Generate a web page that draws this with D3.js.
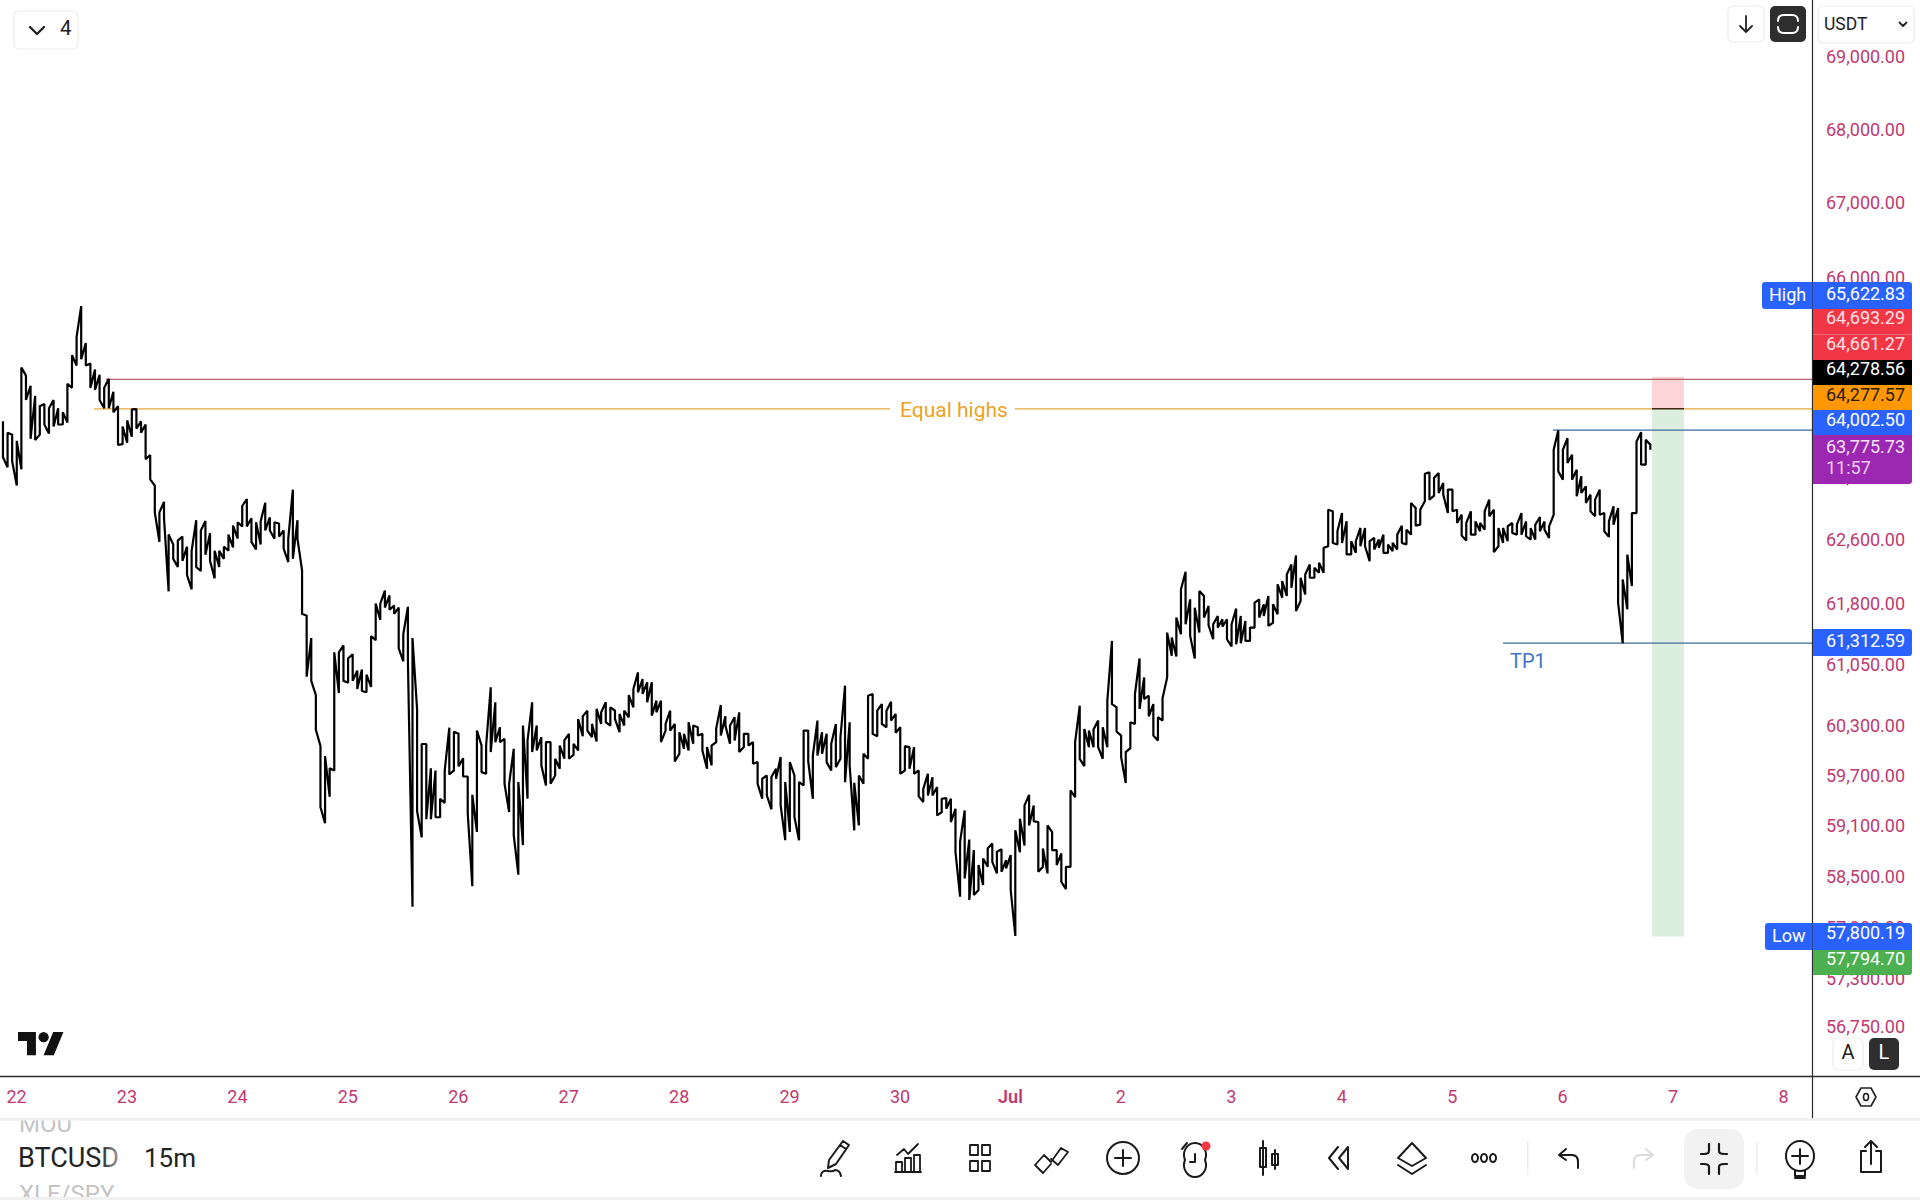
<!DOCTYPE html>
<html>
<head>
<meta charset="utf-8">
<style>
  html, body { margin: 0; padding: 0; background: #fff; }
  svg { display: block; font-family: Roboto, sans-serif; }
</style>
<script src="https://cdn.jsdelivr.net/npm/d3@7"></script>
</head>
<body>
<div id="graph"></div>
<script>
// hourly highs and lows, first bar Jun 21 21:00
var highs = [
  64117,63970,63944,63865,64815,64709,64577,64445,64312,
  64339,64286,64392,64286,64233,64603,64976,65215,65622.83,65135,
  64869,64789,64720,64550,64667,64498,64312,64049,64128,64270,
  64275,64117,64075,63681,63291,62950,63084,62670,62543,62594,62645,
  62517,62466,62851,62722,62841,62686,62466,62466,62517,62670,
  62784,62825,63032,63120,62877,62825,62836,63073,62887,62825,
  62810,62722,62619,63239,62851,62221,61652,61376,60675,60056,
  59933,59786,61200,61200,61285,61125,61175,60975,60990,60925,
  61400,61804,61804,61967,61906,61779,61754,61426,61764,61376,
  60500,60080,60080,59786,59760,59420,59760,60278,60228,60204,
  59908,59688,59468,60243,60062,60062,60770,60587,60283,60143,
  59601,60022,59621,60304,60123,60587,60304,60163,60102,60102,
  59902,60062,60123,60203,60083,60384,60416,60485,60324,60506,
  60465,60587,60526,60485,60445,60485,60676,60749,60953,60872,
  60831,60831,60607,60607,60324,60485,60324,60223,60203,60344,
  60304,60284,60203,60043,60062,60271,60555,60416,60304,60404,
  60465,60203,60203,60103,59862,59661,59701,59681,59782,59922,
  59621,59862,59701,59621,60243,60243,
  59941,60364,60223,60203,60082,60323,60162,60790,60343,59612,
  59700,59961,60667,60688,60485,60566,60485,60595,60445,60283,
  60054,60042,60042,59761,59540,59720,59680,59560,59421,59429,
  59421,59301,58907,59281,58934,58808,58632,58710,58828,58887,
  58789,58820,58690,58750,59044,59183,59341,59468,59341,59143,
  58828,59103,59024,58808,58769,58612,59520,60102,60546,60263,
  60243,60255,
  60364,60283,60607,61341,60526,60182,59982,60344,60688,61124,
  60891,60668,60566,60405,60635,61444,61382,61630,61981,62201,
  61857,61753,61961,61899,61774,61547,61650,61609,61609,61547,
  61741,61650,61588,61506,61815,61857,61795,61899,61795,62044,
  62085,62168,62294,62406,62127,62168,62294,62252,62315,
  62502,62985,62964,62711,62943,62837,62586,62586,62753,62753,
  62586,62628,62607,62669,62544,62565,62669,62782,62732,63070,
  63007,62985,63443,63460,63388,63452,63324,63240,63240,62985,
  62922,62816,62964,62837,62816,62964,63112,62985,62753,62753,
  62774,62816,62795,
  62942,62836,62752,62794,62891,62836,62773,63750,64002.5,63750,
  63899,63686,63495,63410,63282,63176,63112,63240,62942,62836,
  63027,63006,62106,62418,62942,63857,63976,63878,63814
];
var lows = [
  63655,63525,63603,63291,63499,64392,63891,63876,63944,
  64075,63960,64049,64075,64075,64102,64550,64842,64923,64842,
  64550,64524,64392,64286,64286,64233,63812,63823,63839,63918,
  64023,63970,63629,63369,62950,62578,62877,61957,62364,62262,62339,
  62160,61982,62262,62211,62415,62339,62119,62262,62364,62466,
  62507,62619,62773,62773,62578,62481,62543,62722,62722,62619,
  62645,62492,62323,62364,62619,61677,60900,60850,60253,59322,
  59128,59444,59761,60700,60850,60825,60850,60750,60725,60710,
  60775,61350,61602,61754,61728,61677,61250,61090,61100,58143,
  59273,58960,59176,59176,59200,59200,59370,59712,59761,59810,
  59688,59250,58383,59025,59741,59721,59982,60102,60102,59601,
  59263,58986,58518,58869,59422,59982,60002,59822,59581,59601,
  59701,59782,59902,59902,59950,60002,60175,60243,60163,60111,
  60324,60344,60304,60384,60223,60304,60404,60526,60709,60689,
  60587,60425,60465,60103,60243,60243,59870,59962,60022,60002,
  60083,60183,60002,59782,59822,60103,60183,60304,60083,60123,
  59982,60043,60062,59842,59601,59422,59462,59294,59661,59342,
  58927,59025,59203,58927,59581,59870,
  59421,59941,59961,59861,59761,59801,59901,59620,59821,59043,
  59103,59600,59901,60203,60174,60323,60283,60364,60215,59720,
  59761,59781,59720,59452,59381,59460,59460,59222,59261,59301,
  59143,58785,58260,58474,58221,58279,58338,58396,58612,58671,
  58534,58553,58592,58338,57800.19,58785,58864,59103,59151,58553,
  58612,58534,58808,58632,58435,58349,58612,59440,59901,59813,
  60042,60042,
  60042,59902,60042,60566,60231,59922,59609,60030,60324,60506,
  60627,60417,60182,60122,60364,60891,61157,61149,61424,61547,
  61403,61124,61444,61630,61535,61362,61506,61518,61362,61272,
  61300,61313,61341,61341,61506,61630,61650,61526,61567,61671,
  61878,61899,62002,61712,61836,61919,62127,62127,62189,
  62189,62523,62563,62544,62563,62419,62419,62440,62523,62523,
  62335,62481,62502,62440,62440,62460,62481,62565,62544,62669,
  62782,62795,63091,63112,63163,63197,63176,62943,62964,62816,
  62657,62594,62669,62669,62711,62732,62901,62448,62523,62565,
  62586,62690,62669,
  62669,62648,62606,62606,62711,62732,62627,62921,63473,63367,
  63580,63367,63155,63197,63070,62964,62901,62921,62711,62640,
  62794,61816,61312.59,61733,62023,62942,63558,63558,63750
];

var firstBar = new Date(2024, 5, 21, 21);
var dayTicks = [22,23,24,25,26,27,28,29,30].map(d => new Date(2024, 5, d))
  .concat([1,2,3,4,5,6,7,8].map(d => new Date(2024, 6, d)));
var dayLabels = ['22','23','24','25','26','27','28','29','30','Jul','2','3','4','5','6','7','8'];

var priceTicks = [69000,68000,67000,66000,65000,64200,63400,62600,61800,61050,60300,59700,59100,58500,57900,57300,56750];

var stopPrice = 64693.29, entryPrice = 64278.56, targetPrice = 57794.70;
var redLinePrice = 64661.27, equalHighs = 64277.57, blueLinePrice = 64002.50, tp1 = 61312.59;

var labelValues = ['65,622.83','64,693.29','64,661.27','64,278.56','64,277.57','64,002.50','63,775.73','61,312.59','57,800.19','57,794.70'];
var labelFills  = ['#2962ff','#f23645','#f23645','#000000','#ff9800','#2962ff','#9c27b0','#2962ff','#2962ff','#4caf50'];
var labelInk    = ['#fff','#ffe3e5','#ffe3e5','#fff','#2a1a00','#fff','#f6e3f9','#fff','#fff','#fff'];

var W = 1920, H = 1200, axisX = 1812.5, axisY = 1076.5, stripY = 1118;
var pink = '#bf3a70';

var svg = d3.select('#graph').append('svg').attr('width', W).attr('height', H);

var x = d3.scaleTime().domain([dayTicks[0], dayTicks[16]]).range([16, 1783]);
var y = d3.scaleLog().domain([69000, 56750]).range([57, 1027]);

/*
  position box and level lines
*/
var boxL = 1652, boxR = 1684;
svg.append('rect').attr('x', boxL).attr('width', boxR - boxL)
  .attr('y', y(stopPrice)).attr('height', y(entryPrice) - y(stopPrice)).attr('fill', '#fdd5d9');
svg.append('rect').attr('x', boxL).attr('width', boxR - boxL)
  .attr('y', y(entryPrice)).attr('height', y(targetPrice) - y(entryPrice)).attr('fill', '#dceede');

function level(x0, x1, price, col) {
  svg.append('line').attr('x1', x0).attr('x2', x1).attr('y1', y(price)).attr('y2', y(price))
    .attr('stroke', col).attr('stroke-width', 1.2)
}
level(106, axisX, redLinePrice, '#b9606c')
level(94, 890, equalHighs, '#e6a83f')
level(1015, axisX, equalHighs, '#e6a83f')
level(1553, axisX, blueLinePrice, '#3f6a9c')
level(1503, axisX, tp1, '#3f6a9c')
level(boxL, boxR, entryPrice, '#111')

svg.append('text').attr('x', 954).attr('y', y(equalHighs) + 3).attr('text-anchor', 'middle')
  .attr('dominant-baseline', 'middle').attr('font-size', 21).attr('fill', '#eda31f').text('Equal highs')
svg.append('text').attr('x', 1510).attr('y', 668).attr('font-size', 20).attr('fill', '#3f74c6').text('TP1')

/*
  price path: each hour is a vertical run from high to low, joined in the order that follows the next bar
*/
var path = []
highs.forEach((h, i) => {
  var t = d3.timeMinute.offset(firstBar, i * 60 + 10)
  var nextHigher = i < highs.length - 1 && highs[i + 1] + lows[i + 1] > h + lows[i]
  if (nextHigher) path.push([t, lows[i]], [t, h])
  else path.push([t, h], [t, lows[i]])
})
var priceLine = d3.line().x(d => x(d[0])).y(d => y(d[1]))
svg.append('path').attr('d', priceLine(path)).attr('fill', 'none')
  .attr('stroke', '#000').attr('stroke-width', 2.2).attr('stroke-linejoin', 'miter').attr('stroke-miterlimit', 1.2)

/*
  axes
*/
var yAxis = d3.axisRight(y).tickValues(priceTicks).tickFormat(d3.format(',.2f')).tickSize(0).tickPadding(0)
svg.append('g').attr('transform', 'translate(1826,0)').call(yAxis)
  .call(g => g.select('.domain').remove())
  .selectAll('text').attr('font-size', 18).attr('font-family', 'Roboto').attr('fill', pink)

var xAxis = d3.axisBottom(x).tickValues(dayTicks).tickFormat((d, i) => dayLabels[i]).tickSize(0).tickPadding(0)
svg.append('g').attr('transform', 'translate(0,1090.5)').call(xAxis)
  .call(g => g.select('.domain').remove())
  .selectAll('text').attr('font-size', 18).attr('font-family', 'Roboto').attr('fill', pink)
  .attr('font-weight', (d, i) => dayLabels[i] == 'Jul' ? 600 : 400)

svg.append('line').attr('x1', axisX).attr('x2', axisX).attr('y1', 0).attr('y2', stripY).attr('stroke', '#2a2a2e').attr('stroke-width', 1.2)
svg.append('line').attr('x1', 0).attr('x2', W).attr('y1', axisY).attr('y2', axisY).attr('stroke', '#2a2a2e').attr('stroke-width', 1.4)

/*
  price labels on the axis, stacked as in the app
*/
var labelBoxes = [[282,309],[309,334.5],[334.5,360],[360,385],[385,410],[410,435],[435,484],[629,656],[923,950],[950,975]]
var labelTextY = [295,319.5,345,370.5,396,421,448,642,934,960.5]
var labelG = svg.append('g')
labelG.selectAll('path').data(labelValues).join('path')
  .attr('fill', (d, i) => labelFills[i])
  .attr('d', (d, i) => {
    var t = labelBoxes[i][0], b = labelBoxes[i][1], r = 1912, l = axisX + 0.5
    var topR = (i == 0 || i == 7 || i == 8) ? 3 : 0
    var botR = (i == 6 || i == 7 || i == 9) ? 3 : 0
    return `M${l},${t}H${r - topR}Q${r},${t} ${r},${t + topR}V${b - botR}Q${r},${b} ${r - botR},${b}H${l}Z`
  })
labelG.selectAll('text').data(labelValues).join('text')
  .attr('x', 1826)
  .attr('y', (d, i) => labelTextY[i])
  .attr('dominant-baseline', 'middle').attr('font-size', 18)
  .attr('fill', (d, i) => labelInk[i]).text(d => d)
svg.append('text').attr('x', 1826).attr('y', 469).attr('dominant-baseline', 'middle')
  .attr('font-size', 18).attr('fill', '#f0cdf5').text('11:57')

function sideTab(x0, t, b, txt, tx) {
  svg.append('path').attr('fill', '#2962ff')
    .attr('d', `M${axisX},${t}H${x0 + 3}Q${x0},${t} ${x0},${t + 3}V${b - 3}Q${x0},${b} ${x0 + 3},${b}H${axisX}Z`)
  svg.append('text').attr('x', tx).attr('y', (t + b) / 2 + 1).attr('dominant-baseline', 'middle')
    .attr('font-size', 18).attr('fill', '#fff').text(txt)
}
sideTab(1762, 282, 309, 'High', 1769)
sideTab(1765, 923, 950, 'Low', 1772)

/*
  top buttons
*/
function button(x0, y0, w, h, dark) {
  svg.append('rect').attr('x', x0).attr('y', y0).attr('width', w).attr('height', h).attr('rx', 5)
    .attr('fill', dark ? '#2e2e2e' : '#fff').attr('stroke', dark ? 'none' : '#ececec').attr('stroke-width', 1.2)
}
function icon(cx, cy, d, col, sw) {
  svg.append('path').attr('transform', `translate(${cx},${cy})`).attr('d', d).attr('fill', 'none')
    .attr('stroke', col || '#1a1a1a').attr('stroke-width', sw || 2).attr('stroke-linecap', 'round').attr('stroke-linejoin', 'round')
}
button(14, 11, 64, 38)
icon(37, 30, 'M-7,-3L0,4L7,-3', '#222', 2.4)
svg.append('text').attr('x', 60).attr('y', 30).attr('dominant-baseline', 'middle').attr('font-size', 20.5).attr('fill', '#222').text('4')

button(1728, 6, 36, 36)
icon(1746, 24, 'M0,-8V8M-6,2L0,8L6,2', '#222', 1.8)
button(1770, 6, 36, 36, true)
icon(1788, 24, 'M-10,-3Q-10,-9 -4,-9H4Q10,-9 10,-3M-10,3Q-10,9 -4,9H4Q10,9 10,3', '#fff', 2)
button(1818, 6, 96, 37)
svg.append('text').attr('x', 1824).attr('y', 25).attr('dominant-baseline', 'middle').attr('font-size', 17.5).attr('fill', '#222').text('USDT')
icon(1903, 24, 'M-3.5,-1.5L0,2L3.5,-1.5', '#222', 1.8)

button(1833, 1038, 30, 32)
svg.append('text').attr('x', 1848).attr('y', 1054).attr('text-anchor', 'middle').attr('dominant-baseline', 'middle').attr('font-size', 20).attr('fill', '#222').text('A')
button(1869, 1038, 30, 32, true)
svg.append('text').attr('x', 1884).attr('y', 1054).attr('text-anchor', 'middle').attr('dominant-baseline', 'middle').attr('font-size', 20).attr('fill', '#fff').text('L')

// watermark
svg.append('g').attr('transform', 'translate(18,1027) scale(1.28)').append('path').attr('fill', '#111')
  .attr('d', 'M14 22H7V11H0V4h14v18zM28 22h-8l7.5-18h8L28 22z')
svg.append('circle').attr('cx', 18 + 20 * 1.28).attr('cy', 1027 + 8 * 1.28).attr('r', 4 * 1.28).attr('fill', '#111')

icon(1866, 1097, 'M-5,-9H5L10,0L5,9H-5L-10,0ZM2.5,0A2.5,3.5 0 1 1 -2.5,0A2.5,3.5 0 1 1 2.5,0', '#222', 1.6)

/*
  bottom toolbar
*/
svg.append('rect').attr('x', 0).attr('y', stripY).attr('width', W).attr('height', 2.5).attr('fill', '#f0f0f0')
svg.append('rect').attr('x', 0).attr('y', 1197).attr('width', W).attr('height', 3).attr('fill', '#f0f0f0')

var defs = svg.append('defs')
defs.append('clipPath').attr('id', 'tbClip').append('rect').attr('x', 0).attr('y', 1120.5).attr('width', 118).attr('height', 76.5)
var fade = defs.append('linearGradient').attr('id', 'symFade')
fade.append('stop').attr('offset', '0.8').attr('stop-color', '#222')
fade.append('stop').attr('offset', '1').attr('stop-color', '#999')
var syms = svg.append('g').attr('clip-path', 'url(#tbClip)')
syms.append('text').attr('x', 19).attr('y', 1132).attr('font-size', 24).attr('fill', '#c4c4c4').text('MOU')
syms.append('text').attr('x', 18).attr('y', 1167).attr('font-size', 27).attr('fill', 'url(#symFade)').text('BTCUSD')
syms.append('text').attr('x', 19).attr('y', 1202).attr('font-size', 24).attr('fill', '#c4c4c4').text('XLE/SPY')
svg.append('text').attr('x', 144).attr('y', 1167).attr('font-size', 26).attr('fill', '#222').text('15m')

svg.append('rect').attr('x', 1684).attr('y', 1129).attr('width', 60).attr('height', 60).attr('rx', 14).attr('fill', '#f2f2f2')
svg.append('rect').attr('x', 1527).attr('y', 1141).attr('width', 1.5).attr('height', 34).attr('fill', '#eee')
svg.append('rect').attr('x', 1756).attr('y', 1141).attr('width', 1.5).attr('height', 34).attr('fill', '#eee')

icon(836, 1158, 'M7,-17L13,-13L0,6L-8,10L-7,2ZM4,-13L10,-9M-15,18Q-15,12 -8,13Q-3,14 -1,12Q4,12 5,18')
icon(908, 1158, 'M-11,-3L-4,-9L0,-4L10,-14M-13,14H13M-12,14V4H-6V14M-3,14V0H3V14M6,14V-3H12V14', '#1a1a1a', 1.8)
icon(980, 1158, 'M-10,-13H-2V-3H-10ZM2,-13H10V-3H2ZM-10,3H-2V13H-10ZM2,3H10V13H2Z', '#1a1a1a', 1.8)
icon(1051, 1158, 'M-16,7L-7,-3L0,4L10,-10L17,-6L7,7L0,1M-16,7L-8,15L0,6', '#1a1a1a', 1.8)
icon(1123, 1158, 'M16,0A16,16 0 1 1 -16,0A16,16 0 1 1 16,0M-8,0H8M0,-8V8')
icon(1195, 1158, 'M10,2A11,12 0 1 1 -10,2A11,12 0 1 1 10,2M0,-4V4H-5M-13,-9L-8,-15', '#1a1a1a', 2)
svg.append('circle').attr('cx', 1206).attr('cy', 1146).attr('r', 4.5).attr('fill', '#f23645')
icon(1269, 1158, 'M-6,-17V17M-9,-10H-3V9H-9ZM6,-8V11M3,-4H9V7H3Z', '#1a1a1a', 2)
icon(1340, 1158, 'M-2,-11L-11,0L-2,11M8,-11L-1,0L8,11M8,-11V11', '#1a1a1a', 2)
icon(1412, 1158, 'M0,-15L14,0L0,8L-14,0ZM-14,7L0,16L14,7', '#1a1a1a', 2)
icon(1484, 1158, 'M-6,0A3,4 0 1 1 -12,0A3,4 0 1 1 -6,0M3,0A3,4 0 1 1 -3,0A3,4 0 1 1 3,0M12,0A3,4 0 1 1 6,0A3,4 0 1 1 12,0', '#1a1a1a', 2)
icon(1570, 1158, 'M-4,-9L-11,-3L-4,2M-11,-3H2Q8,-3 8,4V10', '#1a1a1a', 2)
icon(1642, 1158, 'M4,-9L11,-3L4,2M11,-3H-2Q-8,-3 -8,4V10', '#dcdcdc', 2)
icon(1714, 1159, 'M-5,-15V-8Q-5,-5 -10,-5H-13M5,-15V-8Q5,-5 10,-5H13M-5,15V8Q-5,5 -10,5H-13M5,15V8Q5,5 10,5H13', '#1a1a1a', 2.2)
icon(1800, 1159, 'M14,-3A13,14 0 1 1 -14,-3A13,14 0 1 1 14,-3M-8,-3H8M0,-10V5M-5,11V17H5V11M-5,19H5', '#1a1a1a', 2)
icon(1871, 1158, 'M-5,-7H-10V14H10V-7H5M0,6V-17M-6,-11L0,-17L6,-11', '#1a1a1a', 2)
</script>
</body>
</html>
